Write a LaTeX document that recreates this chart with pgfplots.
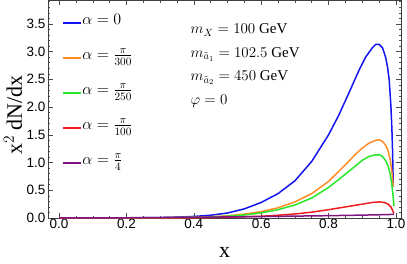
\RequirePackage{fix-cm}
\documentclass[border=0pt]{standalone}
\usepackage{fontspec}
\setmainfont{Liberation Serif}
\newfontfamily\arial{Liberation Sans}
\usepackage{pgfplots}
\pgfplotsset{compat=1.18}
\definecolor{cblue}{RGB}{20,20,240}
\definecolor{corange}{RGB}{255,140,40}
\definecolor{cgreen}{RGB}{40,230,40}
\definecolor{cred}{RGB}{240,30,30}
\definecolor{cpurple}{RGB}{128,20,128}
\begin{document}
\begin{tikzpicture}
\begin{axis}[
  at={(0,0)}, anchor=south west,
  width=353pt, height=218pt, scale only axis,
  xmin=-0.033, xmax=1.015, ymin=0, ymax=3.93,
  axis line style={black!75, line width=0.6pt},
  tick align=inside,
  xtick={0,0.2,...,1.0}, ytick={0,0.5,...,3.5},
  minor xtick={0,0.05,...,1.0}, minor ytick={0,0.1,...,3.9},
  major tick length=5pt, minor tick length=2.5pt,
  tick style={black!70, line width=0.5pt},
  every tick label/.append style={font=\arial\fontsize{13.5}{14}\selectfont},
  /pgf/number format/assume math mode=true,
  /pgf/number format/.cd, fixed, fixed zerofill, precision=1, /pgfplots/.cd,
  xticklabel style={yshift=2pt},
  yticklabel style={xshift=1pt},
  xlabel={x}, ylabel={x$^2$ dN/dx},
  label style={font=\fontsize{22}{24}\selectfont},
  xlabel style={at={(axis description cs:0.5,-0.156)}, anchor=center},
  ylabel style={at={(axis description cs:-0.099,0.472)}, anchor=center},
  legend style={at={(0.03,0.962)}, anchor=north west, draw=none, fill=none,
    font=\fontsize{16}{18}\selectfont, row sep=10pt,
    nodes={text height=13pt, text depth=10pt, inner sep=1pt, anchor=west}},
  legend cell align=left,
  legend image code/.code={\draw[#1] (0pt,0pt) -- (18pt,0pt);},
  clip=false,
]
\addplot[cblue, line width=1.5pt] coordinates {
(0,0) (0.1,0.0003) (0.2,0.002) (0.3,0.008) (0.35,0.015) (0.4,0.028) (0.45,0.05)
(0.5,0.09) (0.55,0.165) (0.6,0.28) (0.65,0.44) (0.7,0.67) (0.75,1.02) (0.8,1.5)
(0.83,1.85) (0.86,2.25) (0.89,2.66) (0.91,2.9) (0.93,3.07) (0.94,3.13) (0.95,3.13)
(0.96,3.07) (0.965,2.98) (0.97,2.88) (0.975,2.72) (0.98,2.49) (0.985,2.02)
(0.988,1.6) (0.990,1.2) (0.992,0.57)};
\addlegendentry{$\alpha = 0\vphantom{\frac{\pi}{300}}$}
\addplot[corange, line width=1.5pt] coordinates {
(0,0) (0.2,0.001) (0.3,0.004) (0.4,0.012) (0.45,0.022) (0.5,0.04) (0.55,0.07)
(0.6,0.115) (0.65,0.185) (0.7,0.29) (0.75,0.44) (0.8,0.66) (0.85,0.96) (0.88,1.15)
(0.9,1.26) (0.92,1.35) (0.94,1.40) (0.95,1.41) (0.96,1.38) (0.97,1.31) (0.977,1.2)
(0.983,1.05) (0.987,0.88) (0.990,0.72) (0.992,0.57)};
\addlegendentry{$\alpha = \frac{\pi}{300}$}
\addplot[cgreen, line width=1.5pt] coordinates {
(0,0) (0.2,0.001) (0.3,0.003) (0.4,0.01) (0.45,0.018) (0.5,0.032) (0.55,0.055)
(0.6,0.092) (0.65,0.15) (0.7,0.235) (0.75,0.36) (0.8,0.55) (0.85,0.79) (0.88,0.94)
(0.9,1.04) (0.92,1.11) (0.94,1.14) (0.95,1.14) (0.96,1.11) (0.97,1.03) (0.977,0.93)
(0.983,0.79) (0.987,0.64) (0.991,0.43) (0.994,0.22)};
\addlegendentry{$\alpha = \frac{\pi}{250}$}
\addplot[cred, line width=1.5pt] coordinates {
(0,0) (0.3,0.001) (0.4,0.004) (0.5,0.012) (0.6,0.032) (0.65,0.05) (0.7,0.073)
(0.75,0.105) (0.8,0.15) (0.85,0.2) (0.9,0.25) (0.93,0.28) (0.95,0.29) (0.965,0.28)
(0.977,0.25) (0.985,0.2) (0.99,0.14) (0.994,0.08)};
\addlegendentry{$\alpha = \frac{\pi}{100}$}
\addplot[cpurple, line width=1.5pt] coordinates {
(0,0) (0.2,0.004) (0.4,0.013) (0.6,0.026) (0.8,0.042) (0.9,0.052) (0.95,0.058)
(0.98,0.063) (0.994,0.066)};
\addlegendentry{$\alpha = \frac{\pi}{4}$}
\node[anchor=north west, align=left, inner sep=0pt,
  font=\fontsize{15}{23.5}\selectfont] at (axis cs:0.39,3.5)
  {$m_X = 100$ GeV\\ $m_{\tilde{a}_1} = 102.5$ GeV\\ $m_{\tilde{a}_2} = 450$ GeV\\ $\varphi = 0$};
\end{axis}
\pgfresetboundingbox
\path[use as bounding box] (-48pt,-45pt) rectangle (359pt,218pt);
\end{tikzpicture}
\end{document}
